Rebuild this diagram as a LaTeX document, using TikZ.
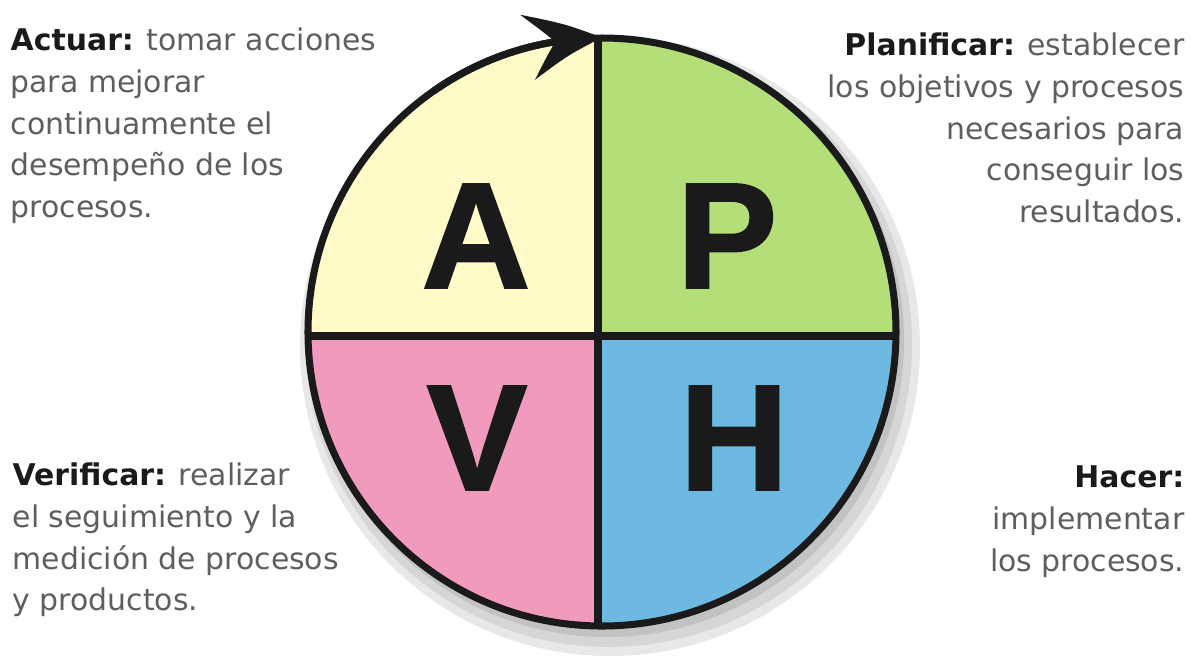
\documentclass[tikz,border=0pt]{standalone}
\usepackage{fontspec}
\setmainfont{DejaVu Sans}
\newfontfamily\letterfont{Liberation Sans}[FakeBold=1.2]
\usetikzlibrary{positioning, arrows.meta, bending, calc}
\definecolor{actYellow}{HTML}{FFFAC8}
\definecolor{planGreen}{HTML}{B4DE78}
\definecolor{checkPink}{HTML}{F09ABE}
\definecolor{doBlue}{HTML}{6DB9E1}
\definecolor{noteGrey}{HTML}{5E5E5E}
\definecolor{noteBlack}{HTML}{1A1A1A}
\tikzstyle{note} =[inner sep=0pt, text=noteGrey, font=\fontsize{8.5}{11.9}\selectfont]
\tikzstyle{letter} =[inner sep=0pt, anchor=base, text=noteBlack, font=\fontsize{43}{43}\selectfont\letterfont\bfseries]
\tikzstyle{rim} =[line width=2pt, draw=noteBlack]
\newcommand{\lbl}[1]{\textcolor{noteBlack}{\textbf{#1}}}

\begin{document}
\begin{tikzpicture}
\useasboundingbox (0,0) rectangle (11.91,-6.66);
\coordinate (centre) at (6.02,-3.32);
\coordinate (mid) at (5.98,-3.36);

%shadow
\fill[gray!18] ($(centre)+(0.08,-0.14)$) circle (3.1);
\fill[gray!32] ($(centre)+(0.07,-0.12)$) circle (3.03);
\fill[gray!48] ($(centre)+(0.05,-0.08)$) circle (2.97);

\begin{scope}
\clip (centre) circle (2.94);
\fill[actYellow] (mid) rectangle ++(-3.2,3.2);
\fill[planGreen] (mid) rectangle ++(3.2,3.2);
\fill[checkPink] (mid) rectangle ++(-3.2,-3.2);
\fill[doBlue] (mid) rectangle ++(3.2,-3.2);
\draw[rim] ($(mid)+(0,3.2)$) -- ($(mid)+(0,-3.2)$);
\draw[rim] ($(mid)+(-3.2,0)$) -- ($(mid)+(3.2,0)$);
\end{scope}
\draw[rim] (centre) circle (2.94);

\draw[rim, -{Stealth[length=7.5mm, width=6.6mm, inset=2.8mm, bend]}]
	(centre) ++(125:2.94) arc (125:90:2.94);

\node (aLetter) [letter] at (4.76,-2.88) {A};
\node (pLetter) [letter] at (7.27,-2.88) {P};
\node (vLetter) [letter] at (4.77,-4.90) {V};
\node (hLetter) [letter] at (7.34,-4.90) {H};

\node (actNote) [note, anchor=north west, align=left] at (0.10,-0.27)
	{\lbl{Actuar:} tomar acciones\\para mejorar\\continuamente el\\desempeño de los\\procesos.};
\node (planNote) [note, anchor=north east, align=right] at (11.85,-0.32)
	{\lbl{Planificar:} establecer\\los objetivos y procesos\\necesarios para\\conseguir los\\resultados.};
\node (checkNote) [note, anchor=north west, align=left] at (0.12,-4.62)
	{\lbl{Verificar:} realizar\\el seguimiento y la\\medición de procesos\\y productos.};
\node (doNote) [note, anchor=north east, align=right] at (11.85,-4.65)
	{\lbl{Hacer:}\\implementar\\los procesos.};
\end{tikzpicture}
\end{document}
